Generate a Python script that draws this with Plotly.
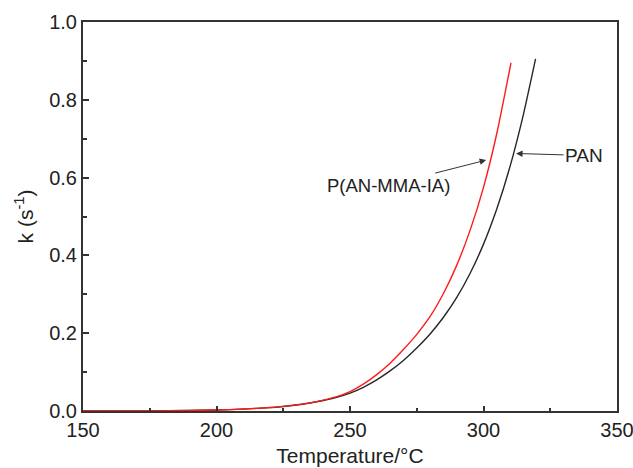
import plotly.graph_objects as go

# P(AN-MMA-IA) curve (red)
t_copo = [150, 175, 190, 200, 210, 220, 225, 230, 235, 240, 245, 250, 255, 260,
          265, 270, 275, 280, 285, 290, 295, 300, 305, 310.3]
k_copo = [0.0, 0.0004, 0.0012, 0.0025, 0.005, 0.009, 0.012, 0.016, 0.021, 0.028,
          0.037, 0.050, 0.069, 0.0935, 0.123, 0.158, 0.197, 0.243, 0.302, 0.375,
          0.465, 0.575, 0.714, 0.895]

# PAN curve (black)
t_pan = [150, 175, 190, 200, 210, 220, 225, 230, 235, 240, 245, 250, 255, 260,
         265, 270, 275, 280, 285, 290, 295, 300, 305, 310, 315, 319.5]
k_pan = [0.0, 0.0004, 0.0012, 0.0025, 0.0049, 0.0088, 0.0117, 0.0155, 0.0205, 0.027,
         0.035, 0.046, 0.061, 0.080, 0.103, 0.130, 0.162, 0.198, 0.241, 0.292,
         0.354, 0.429, 0.520, 0.630, 0.764, 0.905]

x_ticks = [150, 200, 250, 300, 350]
y_ticks = [0.0, 0.2, 0.4, 0.6, 0.8, 1.0]

FONT = "Liberation Sans, Arial, sans-serif"
TXT = "#222222"

fig = go.Figure()
fig.add_trace(go.Scatter(x=t_pan, y=k_pan, mode="lines",
                         line=dict(color="#262626", width=1.4, shape="spline", smoothing=0.6),
                         name="PAN", showlegend=False))
fig.add_trace(go.Scatter(x=t_copo, y=k_copo, mode="lines",
                         line=dict(color="#ff1a1a", width=1.4, shape="spline", smoothing=0.6),
                         name="P(AN-MMA-IA)", showlegend=False))

fig.add_annotation(x=301.0, y=0.645, ax=-98, ay=25, text="P(AN-MMA-IA)",
                   showarrow=True, arrowhead=2, arrowsize=1.3, arrowwidth=1, arrowcolor="#333333",
                   font=dict(family=FONT, size=18.5, color=TXT))
fig.add_annotation(x=312.2, y=0.662, ax=68, ay=2, text="PAN",
                   showarrow=True, arrowhead=2, arrowsize=1.3, arrowwidth=1, arrowcolor="#333333",
                   font=dict(family=FONT, size=19, color=TXT))

axis_common = dict(showgrid=False, zeroline=False, showline=True, linecolor="#333333", linewidth=2,
                   mirror=True, ticks="inside", tickcolor="#333333", tickwidth=1.5,
                   automargin=False, ticklabeloverflow="allow",
                   tickfont=dict(family=FONT, size=20, color=TXT))

fig.update_xaxes(range=[150, 350], tickvals=x_ticks, ticktext=[str(v) for v in x_ticks], ticklen=5,
                 minor=dict(ticks="inside", dtick=25, ticklen=3, tickcolor="#333333", tickwidth=1.5),
                 title=dict(text="Temperature/\u00b0C", font=dict(family=FONT, size=21, color=TXT), standoff=8),
                 **axis_common)
fig.update_yaxes(range=[0, 1.0], tickvals=y_ticks, ticktext=[f"{v:.1f}" for v in y_ticks], ticklen=6,
                 minor=dict(ticks="inside", dtick=0.1, ticklen=4, tickcolor="#333333", tickwidth=1.5),
                 title=dict(text="k (s<sup>-1</sup>)", font=dict(family=FONT, size=21, color=TXT), standoff=10),
                 **axis_common)

fig.update_layout(width=633, height=468, margin=dict(l=83, r=16, t=22, b=57),
                  paper_bgcolor="white", plot_bgcolor="white", showlegend=False)

fig.write_html("out.html")
